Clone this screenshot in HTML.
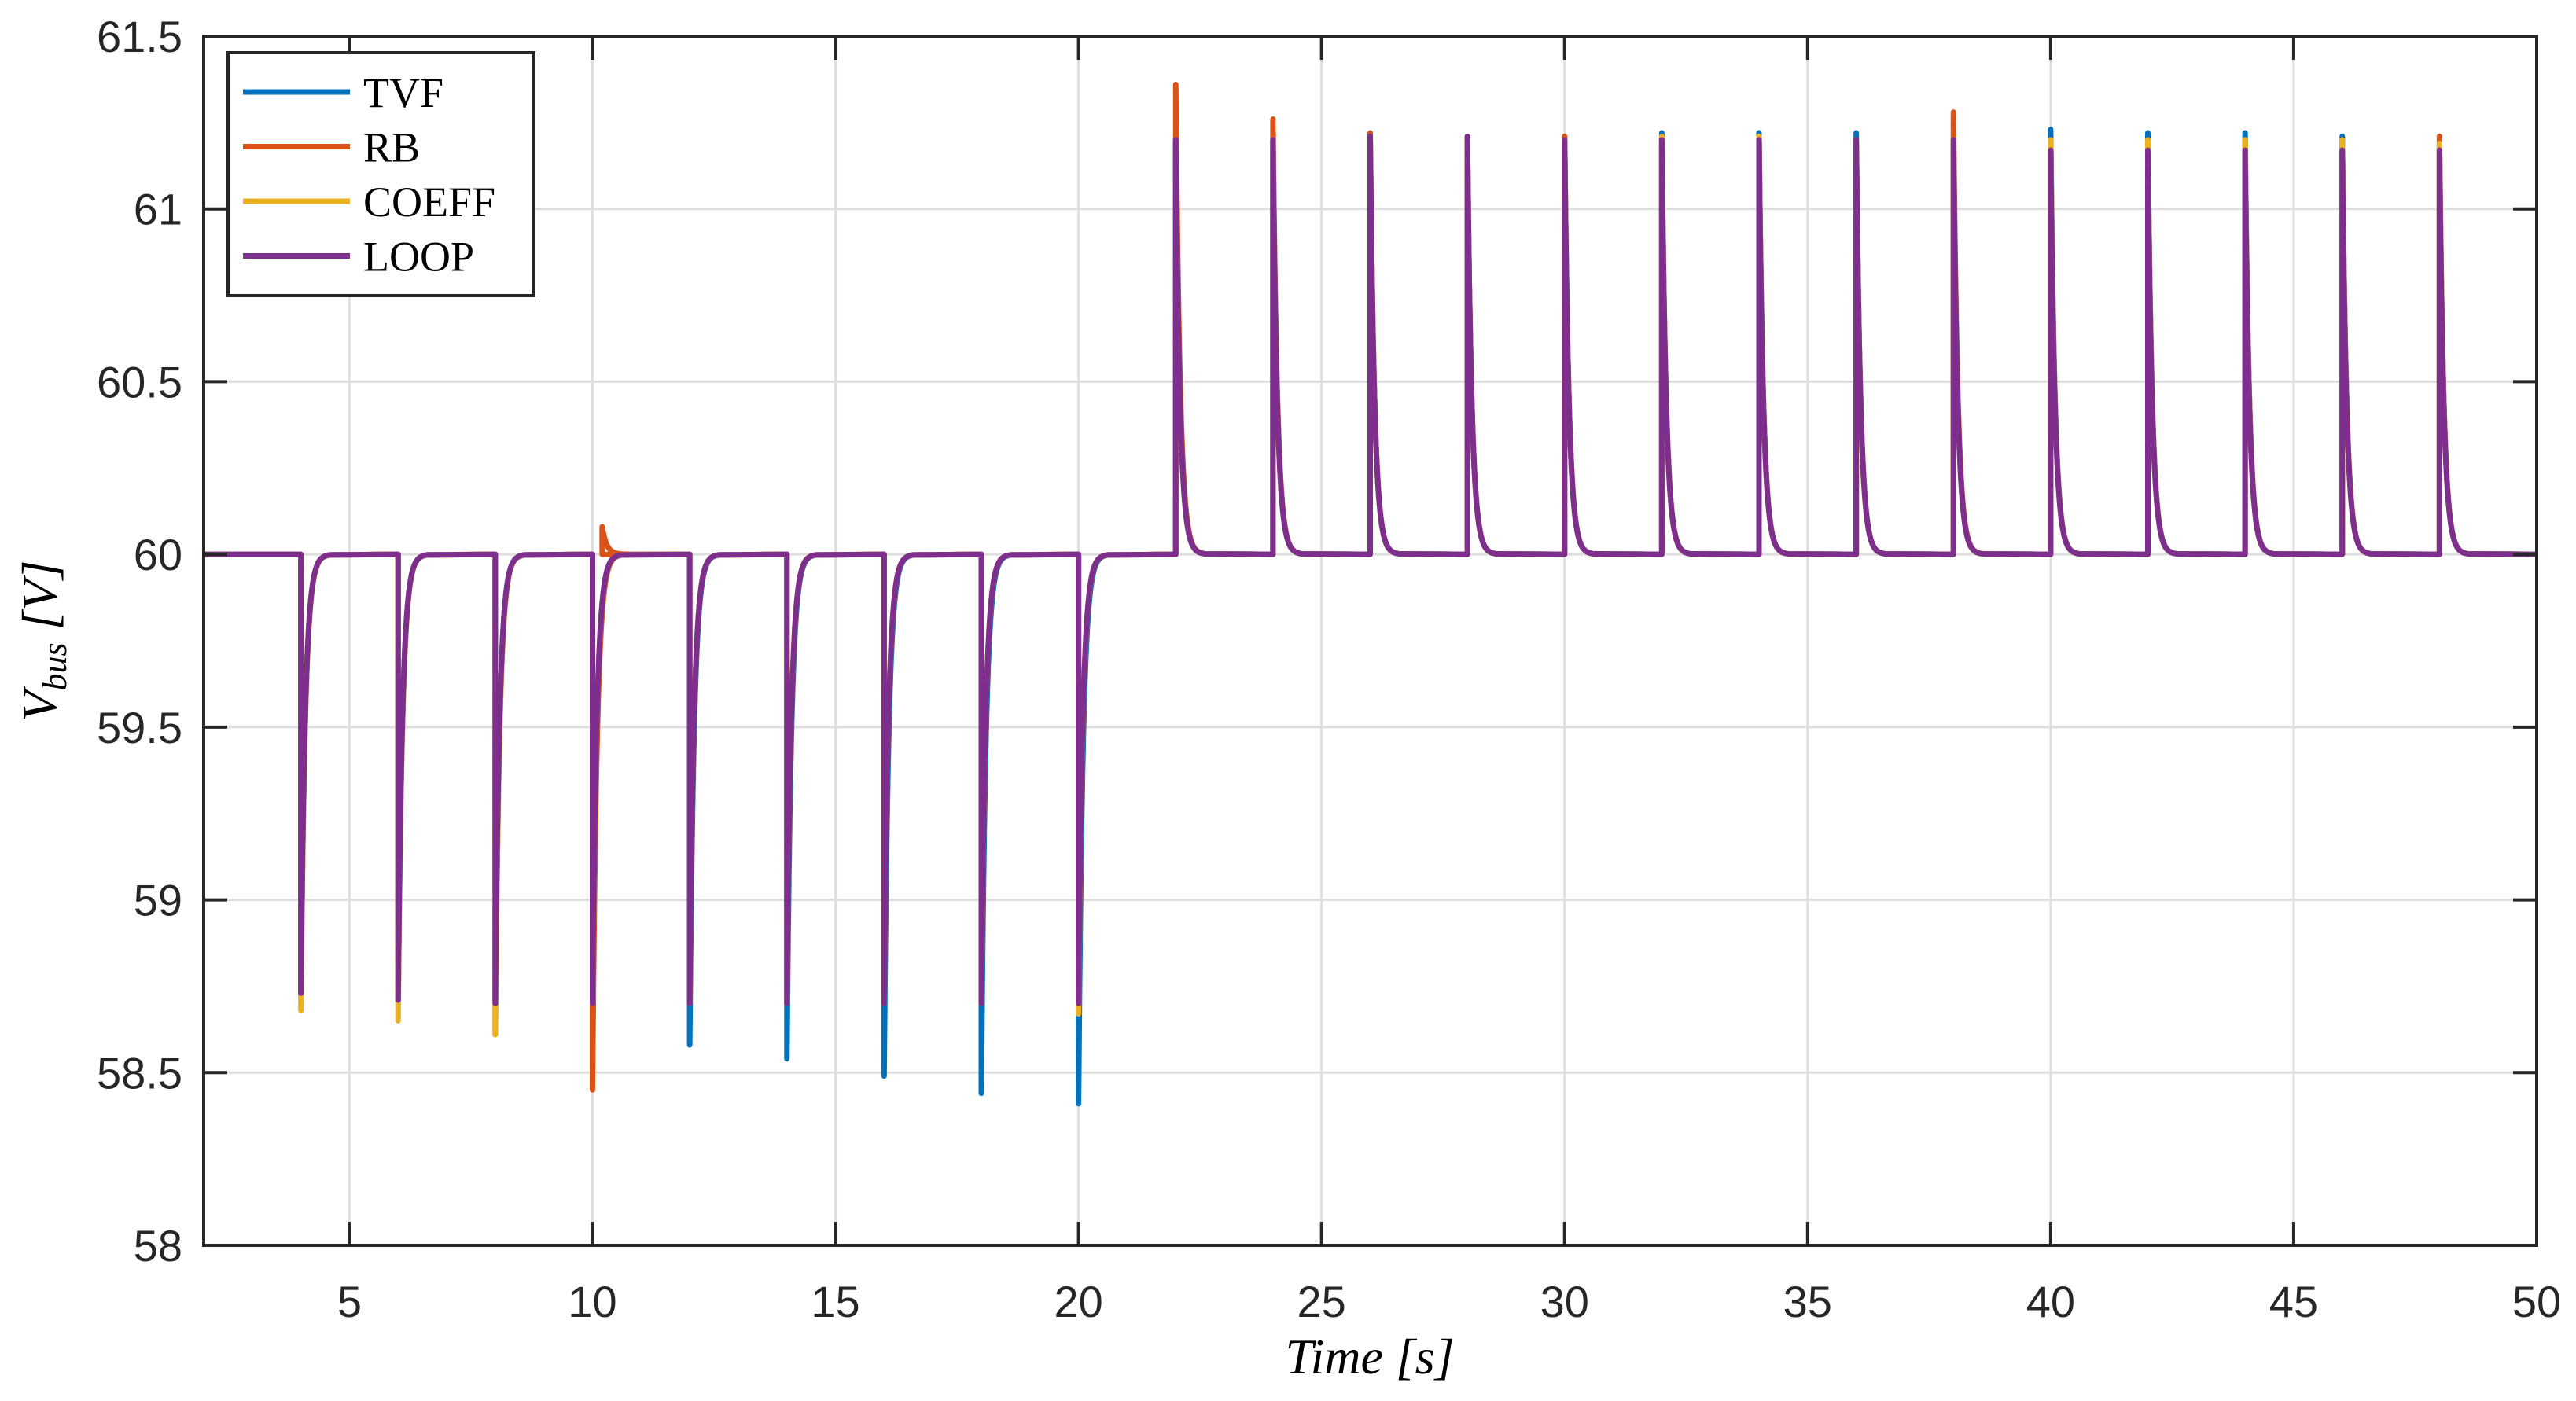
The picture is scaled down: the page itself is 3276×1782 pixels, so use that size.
<!DOCTYPE html>
<html><head><meta charset="utf-8"><style>body{margin:0;background:#fff}svg{display:block}</style></head>
<body>
<svg id="chart" width="3276" height="1782" xmlns="http://www.w3.org/2000/svg" font-family="Liberation Sans, sans-serif">
<g id="grid"></g>
<g id="series"></g>
<rect x="259" y="46" width="2967" height="1538" fill="none" stroke="#262626" stroke-width="4"/>
<g id="ticks"></g>
<text x="1742" y="1747" font-family="Liberation Serif, serif" font-style="italic" font-size="64" text-anchor="middle" fill="#000">Time [s]</text>
<text transform="translate(72,815) rotate(-90)" font-family="Liberation Serif, serif" font-style="italic" font-size="64" text-anchor="middle" fill="#000">V<tspan font-size="44" dy="12">bus</tspan><tspan dy="-12"> [V]</tspan></text>
<g>
<rect x="290" y="67" width="389" height="309" fill="#fff" stroke="#262626" stroke-width="4"/>
<g id="legend-items"></g>
</g>
</svg>
<script>
const xTicks=[5,10,15,20,25,30,35,40,45,50];
const yTicks=[58,58.5,59,59.5,60,60.5,61,61.5];
const seriesNames=['TVF','RB','COEFF','LOOP'];
const colors=['#0072BD','#D95319','#EDB120','#7E2F8E'];
const dipTimes=[4,6,8,10,12,14,16,18,20];
const spikeTimes=[22,24,26,28,30,32,34,36,38,40,42,44,46,48];
const dipTVF=[58.72,58.7,58.7,58.7,58.58,58.54,58.49,58.44,58.41];
const dipRB=[58.72,58.7,58.61,58.45,58.7,58.7,58.7,58.7,58.7];
const dipCOEFF=[58.68,58.65,58.61,58.7,58.7,58.7,58.7,58.7,58.67];
const dipLOOP=[58.73,58.71,58.7,58.7,58.7,58.7,58.7,58.7,58.7];
const spikeTVF=[61.2,61.2,61.2,61.2,61.2,61.22,61.22,61.22,61.2,61.23,61.22,61.22,61.21,61.19];
const spikeRB=[61.36,61.26,61.22,61.21,61.21,61.2,61.2,61.19,61.28,61.19,61.19,61.19,61.19,61.21];
const spikeCOEFF=[61.2,61.2,61.2,61.2,61.2,61.21,61.21,61.2,61.2,61.2,61.2,61.2,61.2,61.19];
const spikeLOOP=[61.2,61.2,61.21,61.21,61.2,61.2,61.2,61.2,61.2,61.17,61.17,61.17,61.17,61.17];
const rbOvershootTime=[10.2];
const rbOvershootValue=[60.08];
const dips=[dipTVF,dipRB,dipCOEFF,dipLOOP];
const spikes=[spikeTVF,spikeRB,spikeCOEFF,spikeLOOP];
const X0=259,X1=3226,Y0=46,Y1=1584;
const sx=t=>X0+(t-2)/(50-2)*(X1-X0);
const sy=v=>Y1-(v-58)/(61.5-58)*(Y1-Y0);
const NS='http://www.w3.org/2000/svg';
function mk(tag,attrs,parent){const e=document.createElementNS(NS,tag);for(const k in attrs)e.setAttribute(k,attrs[k]);parent.appendChild(e);return e;}
const grid=document.getElementById('grid'),ticks=document.getElementById('ticks');
xTicks.forEach(t=>{
 const g=mk('line',{x1:sx(t),x2:sx(t),y1:Y0,y2:Y1,stroke:'#dfdfdf','stroke-width':3},grid);
 
 
 mk('line',{x1:sx(t),x2:sx(t),y1:Y1,y2:Y1-30,stroke:'#262626','stroke-width':4},ticks);
 mk('line',{x1:sx(t),x2:sx(t),y1:Y0,y2:Y0+30,stroke:'#262626','stroke-width':4},ticks);
 const l=mk('text',{x:sx(t),y:1675,'font-size':56,'text-anchor':'middle',fill:'#262626'},ticks);
 l.textContent=t;
 
 
});
yTicks.forEach(v=>{
 const g=mk('line',{x1:X0,x2:X1,y1:sy(v),y2:sy(v),stroke:'#dfdfdf','stroke-width':3},grid);
 
 
 mk('line',{x1:X0,x2:X0+30,y1:sy(v),y2:sy(v),stroke:'#262626','stroke-width':4},ticks);
 mk('line',{x1:X1,x2:X1-30,y1:sy(v),y2:sy(v),stroke:'#262626','stroke-width':4},ticks);
 const l=mk('text',{x:232,y:sy(v)+20,'font-size':56,'text-anchor':'end',fill:'#262626'},ticks);
 l.textContent=v;
 
 
});
const sg=document.getElementById('series');
seriesNames.forEach((name,i)=>{
 const ev=[];
 dipTimes.forEach((t,j)=>ev.push([t,dips[i][j]]));
 if(name==='RB') rbOvershootTime.forEach((t,j)=>ev.push([t,rbOvershootValue[j]]));
 spikeTimes.forEach((t,j)=>ev.push([t,spikes[i][j]]));
 ev.sort((a,b)=>a[0]-b[0]);
 let d=`M${sx(2)},${sy(60)}`;
 ev.forEach(([t,v])=>{
  d+=` L${sx(t)},${sy(60)} L${sx(t)},${sy(v)}`;
  for(let k=1;k<=30;k++){const dt=k*0.02;d+=` L${sx(t+dt)},${sy(60+(v-60)*Math.exp(-dt/0.09))}`;}
 });
 d+=` L${sx(50)},${sy(60)}`;
 const p=mk('path',{d:d,fill:'none',stroke:colors[i],'stroke-width':7,'stroke-linejoin':'round'},sg);
 
 
});
const li=document.getElementById('legend-items');
seriesNames.forEach((name,i)=>{
 const y=117+i*69.5;
 const ln=mk('line',{x1:309,x2:445,y1:y,y2:y,stroke:colors[i],'stroke-width':7},li);
 
 
 const t=mk('text',{x:462,y:y+19,'font-size':54,'font-family':'Liberation Serif, serif',fill:'#000'},li);
 t.textContent=name;
 
 
});
</script>
</body></html>
